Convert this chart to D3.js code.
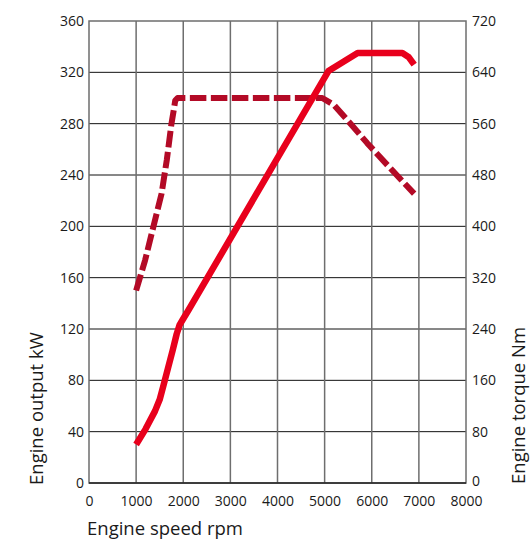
<!DOCTYPE html>
<html>
<head>
<meta charset="utf-8">
<script src="https://cdn.jsdelivr.net/npm/d3@7"></script>
<style>
  html, body { margin: 0; padding: 0; background: #fff; }
  svg { display: block; }
  text { font-family: "Open Sans", "Noto Sans", sans-serif; fill: #1a1a1a; }
</style>
</head>
<body>
<svg id="chart" width="531" height="540"></svg>
<script>
// ---- data ----
const xTicks = [0, 1000, 2000, 3000, 4000, 5000, 6000, 7000, 8000];
const powerTicks = [0, 40, 80, 120, 160, 200, 240, 280, 320, 360];
const torqueTicks = [0, 80, 160, 240, 320, 400, 480, 560, 640, 720];

const powerRpm = [1000, 1200, 1400, 1500, 1580, 1680, 1780, 1860, 1920, 2000, 2100, 5080, 5700, 6650, 6780, 6900];
const powerKw  = [30,   42,   56,   65,   76,   90,   104,  116,  123,  128,  134,  321,  335,  335,  332,  326];

const torqueRpm = [1000, 1190, 1365, 1540, 1650, 1750, 1800, 1830, 1880, 4950, 5200, 5550, 5900, 6400, 6900];
const torqueNm  = [300,  347,  399,  451,  503,  560,  582,  596,  600,  600,  589,  560,  530,  490,  451];

const xTitle = "Engine speed rpm";
const yLeftTitle = "Engine output kW";
const yRightTitle = "Engine torque Nm";

// ---- layout ----
const svg = d3.select("#chart");
const L = 89, R = 466, T = 21, B = 483;

const x = d3.scaleLinear().domain([0, 8000]).range([L, R]);
const yP = d3.scaleLinear().domain([0, 360]).range([B, T]);
const yT = d3.scaleLinear().domain([0, 720]).range([B, T]);

// horizontal grid
svg.append("g").selectAll("line").data(powerTicks.slice(1, -1)).join("line")
  .attr("x1", L).attr("x2", R)
  .attr("y1", d => yP(d)).attr("y2", d => yP(d))
  .attr("stroke", "#111").attr("stroke-width", 1);

// vertical grid
svg.append("g").selectAll("line").data(xTicks.slice(1, -1)).join("line")
  .attr("x1", d => x(d)).attr("x2", d => x(d))
  .attr("y1", T).attr("y2", B)
  .attr("stroke", "#6e6e6e").attr("stroke-width", 1.5);

// frame
svg.append("rect").attr("x", L).attr("y", T).attr("width", R - L).attr("height", B - T)
  .attr("fill", "none").attr("stroke", "#6e6e6e").attr("stroke-width", 1.5);
svg.append("line").attr("x1", L).attr("x2", R).attr("y1", B).attr("y2", B)
  .attr("stroke", "#222").attr("stroke-width", 1.5);

// axes (labels only)
const fmt = d3.format("d");
const leftAxis = d3.axisLeft(yP).tickValues(powerTicks).tickFormat(fmt).tickSize(0).tickPadding(5);
const rightAxis = d3.axisRight(yT).tickValues(torqueTicks).tickFormat(fmt).tickSize(0).tickPadding(6);
const bottomAxis = d3.axisBottom(x).tickValues(xTicks).tickFormat(fmt).tickSize(0).tickPadding(13);

function style(g) {
  g.select(".domain").remove();
  g.selectAll("text").style("font-family", '"Open Sans", "Noto Sans", sans-serif')
    .style("font-size", "14px").attr("fill", "#1a1a1a");
}
svg.append("g").attr("transform", `translate(${L},0)`).call(leftAxis).call(style);
const rg = svg.append("g").attr("transform", `translate(${R},0)`).call(rightAxis).call(style);
rg.selectAll(".tick").filter(d => d === 0).select("text").attr("dy", "0.2em");
svg.append("g").attr("transform", `translate(0,${B})`).call(bottomAxis).call(style);

// curves
const powerData = powerRpm.map((r, i) => [r, powerKw[i]]);
const torqueData = torqueRpm.map((r, i) => [r, torqueNm[i]]);

svg.append("path").datum(torqueData)
  .attr("d", d3.line().x(d => x(d[0])).y(d => yT(d[1])))
  .attr("fill", "none").attr("stroke", "#b30a26").attr("stroke-width", 6)
  .attr("stroke-dasharray", "16.5,4.5").attr("stroke-linejoin", "round");

svg.append("path").datum(powerData)
  .attr("d", d3.line().x(d => x(d[0])).y(d => yP(d[1])))
  .attr("fill", "none").attr("stroke", "#e8001c").attr("stroke-width", 6.5)
  .attr("stroke-linejoin", "round");

// titles
svg.append("text").attr("x", 87).attr("y", 535).attr("font-size", 18.5).text(xTitle);
svg.append("text").attr("transform", "translate(43,485) rotate(-90)")
  .attr("font-size", 18.5).text(yLeftTitle);
svg.append("text").attr("transform", "translate(525,484) rotate(-90)")
  .attr("font-size", 18.5).text(yRightTitle);
</script>
</body>
</html>
